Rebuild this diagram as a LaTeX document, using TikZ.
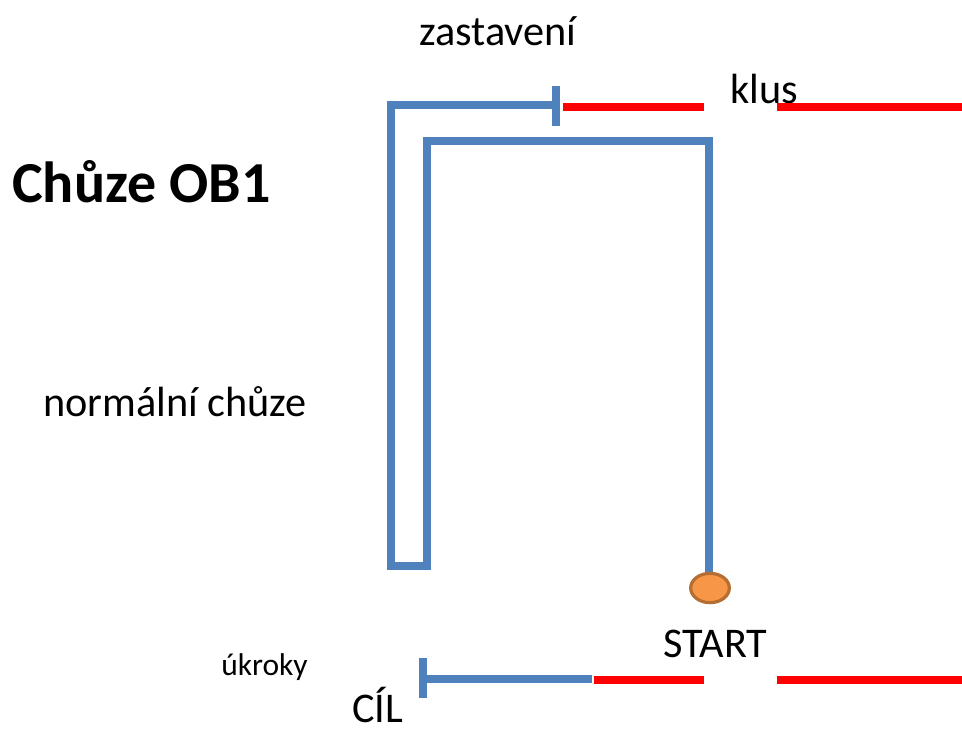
\documentclass[tikz,border=0pt]{standalone}
\usepackage{fontspec}
\setmainfont{Carlito}
\usetikzlibrary{shapes.geometric}
\definecolor{pathblue}{HTML}{4F81BD}
\definecolor{runred}{HTML}{FF0000}
\definecolor{startfill}{HTML}{F79646}
\definecolor{startdraw}{HTML}{B66D31}
\begin{document}
\begin{tikzpicture}[x=0.75pt,y=-0.75pt,
  lbl/.style={anchor=base west,inner sep=0pt,font=\fontsize{31.7}{36}\selectfont},
  walk/.style={draw=pathblue,line width=6.2pt},
  shade/.style={draw=black!40,line width=6pt,opacity=0.3},
  run/.style={draw=runred,line width=5.8pt},
  tee/.style={draw=pathblue,line width=6.5pt},
  startpt/.style={ellipse,fill=startfill,draw=startdraw,line width=2.4pt,inner sep=0pt,outer sep=0pt,minimum width=29pt,minimum height=22pt}]
\useasboundingbox (0,0) rectangle (962,728);
% texts
\node[lbl] (zast) at (419,45) {zastavení};
\node[lbl] (klus) at (730,103) {klus};
\node[anchor=base west,inner sep=0pt,font=\fontsize{43.5}{50}\selectfont\bfseries] (title) at (12,202) {Chůze OB1};
\node[lbl] (norm) at (43,416) {normální chůze};
\node[lbl] (start) at (663,657) {START};
\node[anchor=base west,inner sep=0pt,font=\fontsize{23.6}{28}\selectfont] (ukr) at (221,675) {úkroky};
\node[lbl,text depth=0pt] (cil) at (352,722) {CÍL};
% path points
\coordinate (s0) at (709,580);
\coordinate (s1) at (709,141);
\coordinate (s2) at (427,141);
\coordinate (s3) at (427,566);
\coordinate (s4) at (391,566);
\coordinate (s5) at (391,105);
\coordinate (s6) at (556,105);
\coordinate (t1) at (556,86);
\coordinate (t2) at (556,126);
\coordinate (r1) at (563,107);
\coordinate (r2) at (704,107);
\coordinate (r3) at (777,107);
\coordinate (r4) at (962,107);
\coordinate (b1) at (592,679);
\coordinate (b2) at (423,679);
\coordinate (bt1) at (423,658);
\coordinate (bt2) at (423,698);
\coordinate (q1) at (594,680);
\coordinate (q2) at (704,680);
\coordinate (q3) at (777,680);
\coordinate (q4) at (962,680);
% shadows
\begin{scope}[shift={(2,3)}]
\draw[shade] (s0) -- (s1) -- (s2) -- (s3) -- (s4) -- (s5) -- (s6);
\draw[shade] (t1) -- (t2);
\draw[shade] (b1) -- (b2);
\draw[shade] (bt1) -- (bt2);
\end{scope}
% blue walking path
\draw[walk] (s0) -- (s1) -- (s2) -- (s3) -- (s4) -- (s5) -- (s6);
\draw[tee] (t1) -- (t2);
\draw[walk] (b1) -- (b2);
\draw[tee] (bt1) -- (bt2);
% red trot segments
\draw[run] (r1) -- (r2);
\draw[run] (r3) -- (r4);
\draw[run] (q1) -- (q2);
\draw[run] (q3) -- (q4);
% start point
\node[startpt] (sp) at (710,588) {};
\end{tikzpicture}
\end{document}
